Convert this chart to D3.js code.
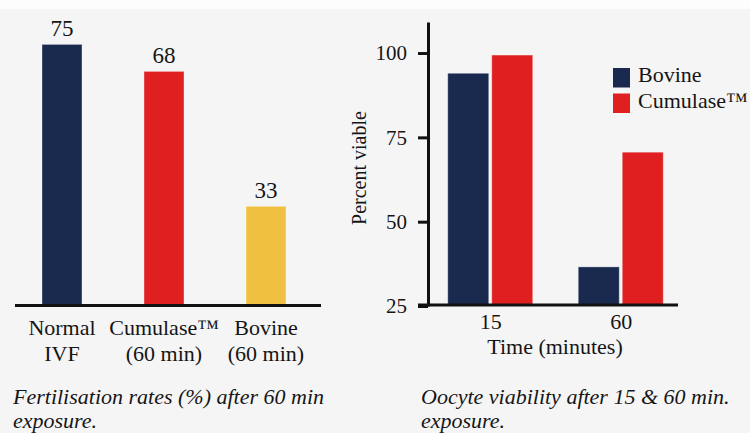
<!DOCTYPE html>
<html>
<head>
<meta charset="utf-8">
<script src="https://cdn.jsdelivr.net/npm/d3@7"></script>
<style>
  html, body { margin: 0; padding: 0; background: #f5f5f5; }
  svg { display: block; }
</style>
</head>
<body>
<svg id="chart" width="750" height="433"></svg>
<script>
// ---- Data ----
const fertCategories = [["Normal", "IVF"], ["Cumulase\u2122", "(60 min)"], ["Bovine", "(60 min)"]];
const fertValues = [75, 68, 33];
const fertCaption = ["Fertilisation rates (%) after 60 min", "exposure."];

const viabTimes = ["15", "60"];
const viabSeries = ["Bovine", "Cumulase\u2122"];
const viabBovine = [94, 36.6];
const viabCumulase = [99.4, 70.6];
const viabTicks = [25, 50, 75, 100];
const viabCaption = ["Oocyte viability after 15 & 60 min.", "exposure."];

const navy = "#1a2a4e", red = "#e02020", gold = "#f0c040";
const fertColors = [navy, red, gold];
const seriesColors = [navy, red];
const FONT = '"Liberation Serif"';
const INK = "#151515";

const svg = d3.select("#chart");
svg.append("rect").attr("x", 0).attr("y", 0).attr("width", 750).attr("height", 9).attr("fill", "#fdfdfd");

function txt(g, x, y, s, size, opts = {}) {
  const t = g.append("text").attr("x", x).attr("y", y)
    .style("font-family", FONT).style("font-size", size + "px").style("fill", INK)
    .attr("text-anchor", opts.anchor || "start").text(s);
  if (opts.italic) t.style("font-style", "italic");
  return t;
}

// ---- Left chart ----
const L = svg.append("g");
const xL = d3.scalePoint().domain(d3.range(fertValues.length)).range([11, 317]).padding(0.5);
const yL = d3.scaleLinear().domain([7.4, 75]).range([305, 44.4]);
const barWL = 40;

L.selectAll("rect.bar").data(fertValues).join("rect")
  .attr("class", "bar")
  .attr("x", (d, i) => xL(i) - barWL / 2)
  .attr("y", d => yL(d))
  .attr("width", barWL)
  .attr("height", d => yL.range()[0] - yL(d))
  .attr("fill", (d, i) => fertColors[i])
  .attr("stroke", "rgba(255,255,255,0.35)")
  .attr("stroke-width", 1);

fertValues.forEach((d, i) => txt(L, xL(i), yL(d) - 8, d, 23, { anchor: "middle" }));

L.append("line").attr("x1", 15).attr("x2", 321).attr("y1", 305.5).attr("y2", 305.5)
  .attr("stroke", "#111").attr("stroke-width", 3);

fertCategories.forEach((lines, i) => {
  lines.forEach((ln, j) => txt(L, xL(i), 335 + j * 26, ln, 22, { anchor: "middle" }));
});

fertCaption.forEach((ln, j) => txt(L, 13, 404 + j * 24, ln, 22, { italic: true }));

// ---- Right chart ----
const R = svg.append("g");
const x0 = d3.scalePoint().domain(viabTimes).range([425, 686]).padding(0.5);
const yR = d3.scaleLinear().domain([25, 109.2]).range([306, 22]);
const barW = 41, gap = 3;

viabTimes.forEach((t, i) => {
  [viabBovine[i], viabCumulase[i]].forEach((v, k) => {
    const xs = k === 0 ? x0(t) - gap / 2 - barW : x0(t) + gap / 2;
    R.append("rect")
      .attr("x", xs).attr("y", yR(v))
      .attr("width", barW).attr("height", yR(25) - yR(v))
      .attr("fill", seriesColors[k])
      .attr("stroke", "rgba(255,255,255,0.35)").attr("stroke-width", 1);
  });
});

// y axis
const yAxis = d3.axisLeft(yR).tickValues(viabTicks).tickSize(10).tickPadding(11).tickSizeOuter(0);
const gy = R.append("g").attr("transform", "translate(428,0)").call(yAxis);
gy.attr("font-family", null).attr("font-size", null);
gy.select(".domain").attr("stroke", "#111").attr("stroke-width", 3);
gy.selectAll(".tick line").attr("stroke", "#111").attr("stroke-width", 3);
gy.selectAll(".tick text").style("font-size", "21px").style("font-family", FONT).style("fill", INK);

// x axis
const xAxis = d3.axisBottom(x0).tickSize(0).tickPadding(8);
const gx = R.append("g").attr("transform", "translate(0,305)").call(xAxis);
gx.attr("font-family", null).attr("font-size", null);
gx.select(".domain").attr("d", "M418,0H678").attr("stroke", "#111").attr("stroke-width", 3);
gx.selectAll(".tick text").style("font-size", "22px").style("font-family", FONT).style("fill", INK);

txt(R, 555, 354, "Time (minutes)", 22, { anchor: "middle" });
txt(R, 0, 0, "Percent viable", 20, { anchor: "middle" })
  .attr("transform", "translate(366,168) rotate(-90)");

// legend
viabSeries.forEach((s, k) => {
  R.append("rect").attr("x", 613).attr("y", 68 + k * 25.5).attr("width", 17).attr("height", 19.5)
    .attr("fill", seriesColors[k]);
  txt(R, 638, 82 + k * 26, s, 22);
});

viabCaption.forEach((ln, j) => txt(R, 421, 404 + j * 24, ln, 22, { italic: true }));
</script>
</body>
</html>
